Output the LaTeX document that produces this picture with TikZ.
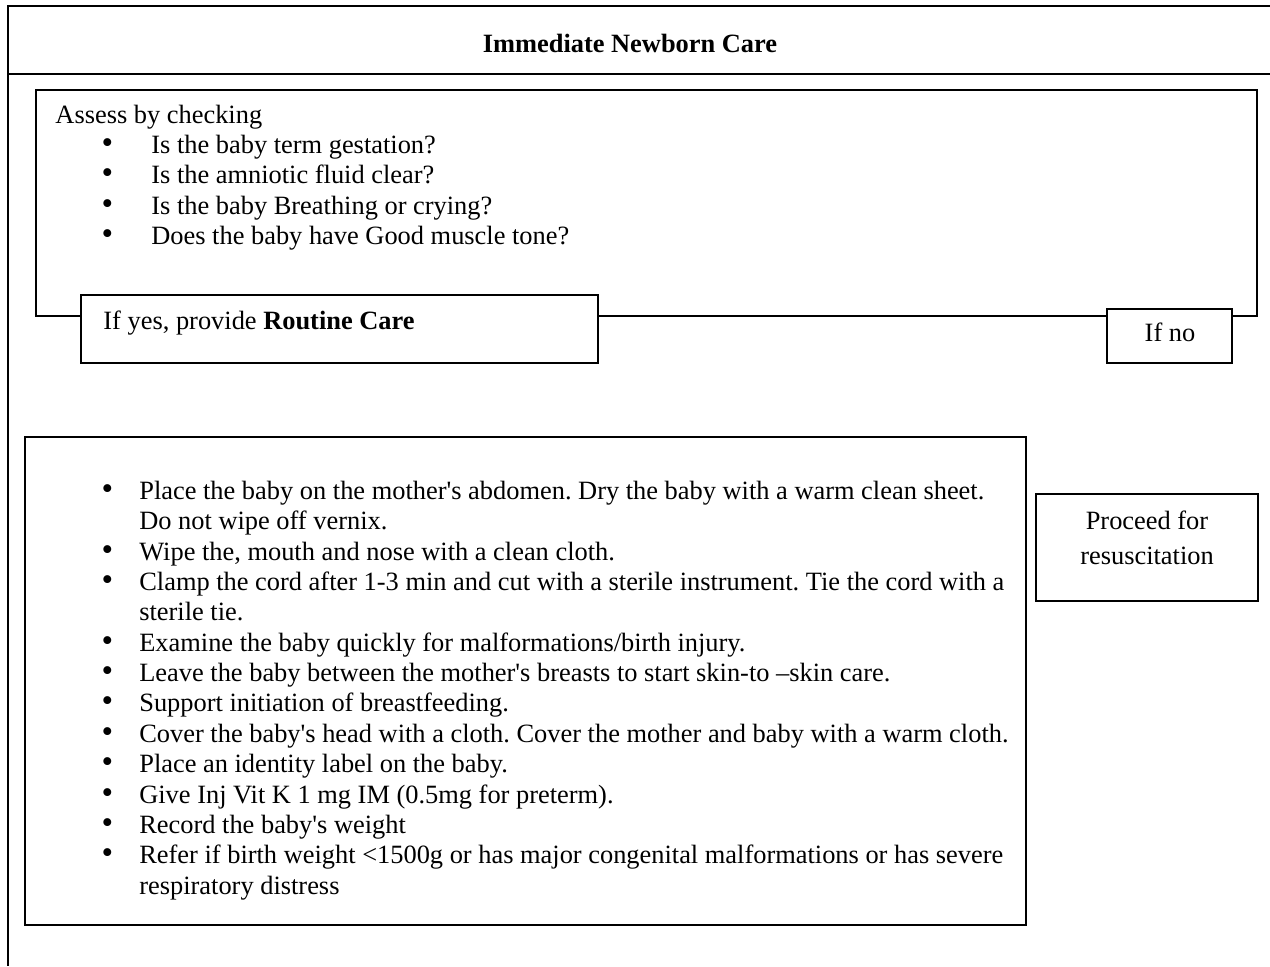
\documentclass[tikz,border=0pt]{standalone}
\usepackage{fontspec}
\setmainfont{Liberation Serif}[Ligatures=TeXOff]
\usetikzlibrary{positioning}

\newcommand{\bigbullet}{{\fontsize{15pt}{15pt}\selectfont\textbullet}}

% bullet list with set margins: #1 left margin, #2 gap before text
\newenvironment{bullets}[2]{%
  \begin{list}{\bigbullet}{\settowidth{\labelwidth}{\bigbullet}%
    \setlength{\leftmargin}{#1}\setlength{\labelsep}{#2}%
    \setlength{\topsep}{0pt}\setlength{\partopsep}{0pt}%
    \setlength{\itemsep}{0pt}\setlength{\parsep}{0pt}}%
  \raggedright\frenchspacing\spaceskip=.25em\relax}
  {\end{list}}

\begin{document}
\begin{tikzpicture}
  [x=0.4545pt,y=-0.4545pt,
   every node/.style={inner sep=0pt,font=\fontsize{12pt}{13.8pt}\selectfont},
   rule/.style={line width=0.7pt},
   box/.style={draw,line width=0.7pt,fill=white}]
  \useasboundingbox (0,0) rectangle (1270,966);

  % page frame and heading
  \draw[rule] (1270,6) -- (8,6) -- (8,966);
  \draw[rule] (8,74) -- (1270,74);
  \node[anchor=base,font=\bfseries\fontsize{12pt}{13.8pt}\selectfont] (title) at (630,52) {Immediate Newborn Care};

  % assessment
  \draw[box] (36,90) rectangle (1257,316);
  \node[anchor=base west,text width=520pt] (assess) at (55,123) {{\spaceskip=.25em Assess by checking}
    \begin{bullets}{43.6pt}{17.4pt}
      \item Is the baby term gestation?
      \item Is the amniotic fluid clear?
      \item Is the baby Breathing or crying?
      \item Does the baby have Good muscle tone?
    \end{bullets}};

  \draw[box] (81,295) rectangle (598,363);
  \node[anchor=base west] (yes) at (103,329) {If yes, provide \textbf{Routine Care}};
  \draw[box] (1107,309) rectangle (1232,363);
  \node[anchor=base] (no) at (1170,341) {If no};

  % routine care steps
  \draw[box] (25,437) rectangle (1026,925);
  \node[anchor=base west,text width=440pt] (routine) at (101.5,469) {%
    \begin{bullets}{17pt}{11.9pt}
      \item Place the baby on the mother's abdomen. Dry the baby with a warm clean sheet.\\
        Do not wipe off vernix.
      \item Wipe the, mouth and nose with a clean cloth.
      \item Clamp the cord after 1-3 min and cut with a sterile instrument. Tie the cord with a\\
        sterile tie.
      \item Examine the baby quickly for malformations/birth injury.
      \item Leave the baby between the mother's breasts to start skin-to –skin care.
      \item Support initiation of breastfeeding.
      \item Cover the baby's head with a cloth. Cover the mother and baby with a warm cloth.
      \item Place an identity label on the baby.
      \item Give Inj Vit K 1 mg IM (0.5mg for preterm).
      \item Record the baby's weight
      \item Refer if birth weight <1500g or has major congenital malformations or has severe\\
        respiratory distress
    \end{bullets}};

  % resuscitation
  \draw[box] (1036,494) rectangle (1258,601);
  \node[anchor=base,align=center,font=\fontsize{12pt}{15.5pt}\selectfont] (resus) at (1147,564) {Proceed for\\resuscitation};
\end{tikzpicture}
\end{document}
